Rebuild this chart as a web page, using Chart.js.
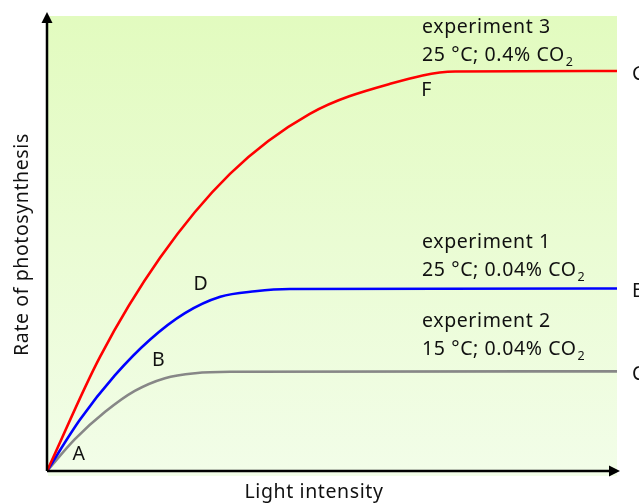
<!DOCTYPE html>
<html>
<head>
<meta charset="utf-8">
<script src="https://cdn.jsdelivr.net/npm/chart.js@4"></script>
<style>
  html, body { margin: 0; padding: 0; background: #fff; }
  #wrap { width: 639px; height: 504px; }
</style>
</head>
<body>
<div id="wrap"><canvas id="myChart"></canvas></div>
<script>
// light intensity (0-100) and rate (0-100)
const exp3X = [0, 9.3, 19.8, 32.1, 46.1, 60.2, 71.6, 100];
const exp3Y = [0, 25.1, 46.8, 65.3, 78.5, 85.1, 87.8, 87.9];
const exp1X = [0, 5.8, 11.9, 18.1, 24.2, 30.4, 36.5, 42.6, 100];
const exp1Y = [0, 11.3, 21.0, 28.9, 34.7, 38.3, 39.5, 40.0, 40.1];
const exp2X = [0, 4.9, 10.2, 15.4, 20.7, 26.0, 32.1, 100];
const exp2Y = [0, 7.0, 13.0, 17.6, 20.4, 21.5, 21.8, 21.9];

const seriesNames = ['experiment 3', 'experiment 1', 'experiment 2'];
const seriesConds = [['25 °C; 0.4% CO', '2'], ['25 °C; 0.04% CO', '2'], ['15 °C; 0.04% CO', '2']];
const seriesColors = ['#ff0000', '#0000ff', '#878787'];
// where the two-line captions sit (x, y of first line baseline)
const captionAt = [[65.8, 96.3], [65.8, 49.0], [65.8, 31.6]];
const endLetters = ['G', 'E', 'C'];
const pointLetters = ['A', 'B', 'D', 'F'];
const pointLetterAt = [[5.6, 3.7], [19.6, 24.4], [27.0, 40.9], [66.6, 83.7]];

const FONT = '"Noto Sans", sans-serif';

function pts(xs, ys) {
    return xs.map((x, i) => ({ x: x, y: ys[i] }));
}

const data = {
    datasets: [
        { label: seriesNames[0], data: pts(exp3X, exp3Y), borderColor: seriesColors[0] },
        { label: seriesNames[1], data: pts(exp1X, exp1Y), borderColor: seriesColors[1] },
        { label: seriesNames[2], data: pts(exp2X, exp2Y), borderColor: seriesColors[2] },
    ].map(d => Object.assign(d, {
        borderWidth: 2.6,
        pointRadius: 0,
        fill: false,
        cubicInterpolationMode: 'monotone',
    }))
};

const backdrop = {
    id: 'backdrop',
    beforeDatasetsDraw(chart) {
        const { ctx, chartArea: a } = chart;
        const g = ctx.createLinearGradient(0, a.top, 0, a.bottom);
        g.addColorStop(0, '#e2fbbf');
        g.addColorStop(1, '#f2fde8');
        ctx.save();
        ctx.fillStyle = g;
        ctx.fillRect(a.left + 1, a.top, a.right - a.left - 1, a.bottom - a.top + 5);
        ctx.restore();
    },
    afterDatasetsDraw(chart) {
        const { ctx, chartArea: a, scales } = chart;
        const xs = scales.x, ys = scales.y;
        ctx.save();
        // axes with arrows
        ctx.strokeStyle = '#000';
        ctx.fillStyle = '#000';
        ctx.lineWidth = 2.5;
        ctx.beginPath();
        ctx.moveTo(a.left, a.bottom);
        ctx.lineTo(a.left, a.top + 2);
        ctx.moveTo(a.left, a.bottom);
        ctx.lineTo(a.right - 2, a.bottom);
        ctx.stroke();
        ctx.beginPath();
        ctx.moveTo(a.left, a.top - 4);
        ctx.lineTo(a.left - 5.5, a.top + 7);
        ctx.lineTo(a.left + 5.5, a.top + 7);
        ctx.closePath();
        ctx.fill();
        ctx.beginPath();
        ctx.moveTo(a.right + 3, a.bottom);
        ctx.lineTo(a.right - 8, a.bottom - 5.5);
        ctx.lineTo(a.right - 8, a.bottom + 5.5);
        ctx.closePath();
        ctx.fill();

        // captions
        ctx.fillStyle = '#111';
        ctx.letterSpacing = '0.6px';
        ctx.textBaseline = 'alphabetic';
        ctx.textAlign = 'left';
        captionAt.forEach((p, i) => {
            const x = xs.getPixelForValue(p[0]);
            const y = ys.getPixelForValue(p[1]);
            ctx.font = '19.5px ' + FONT;
            ctx.fillText(seriesNames[i], x, y);
            ctx.fillText(seriesConds[i][0], x, y + 28);
            const w = ctx.measureText(seriesConds[i][0]).width;
            ctx.font = '12.5px ' + FONT;
            ctx.fillText(seriesConds[i][1], x + w + 1, y + 33);
        });

        // letters on the curves
        ctx.font = '19.5px ' + FONT;
        ctx.textAlign = 'center';
        ctx.textBaseline = 'middle';
        pointLetters.forEach((t, i) => {
            ctx.fillText(t, xs.getPixelForValue(pointLetterAt[i][0]), ys.getPixelForValue(pointLetterAt[i][1]));
        });
        ctx.textAlign = 'left';
        const ends = [exp3Y, exp1Y, exp2Y];
        endLetters.forEach((t, i) => {
            const v = ends[i][ends[i].length - 1];
            ctx.fillText(t, a.right + 15, ys.getPixelForValue(v) + 3);
        });

        // axis titles
        ctx.textAlign = 'center';
        ctx.textBaseline = 'alphabetic';
        ctx.fillText('Light intensity', (a.left + a.right) / 2 - 18, a.bottom + 27);
        ctx.translate(28, (a.top + a.bottom) / 2 + 1);
        ctx.rotate(-Math.PI / 2);
        ctx.fillText('Rate of photosynthesis', 0, 0);
        ctx.restore();
    }
};

const config = {
    type: 'line',
    data: data,
    options: {
        responsive: true,
        maintainAspectRatio: false,
        animation: false,
        layout: { padding: { left: 47, right: 22, top: 16, bottom: 33 } },
        plugins: { legend: { display: false }, tooltip: { enabled: false } },
        scales: {
            x: { type: 'linear', min: 0, max: 100, display: false },
            y: { type: 'linear', min: 0, max: 100, display: false }
        }
    },
    plugins: [backdrop]
};

// eslint-disable-next-line
const myChart = new Chart(document.getElementById('myChart'), config);
</script>
</body>
</html>
